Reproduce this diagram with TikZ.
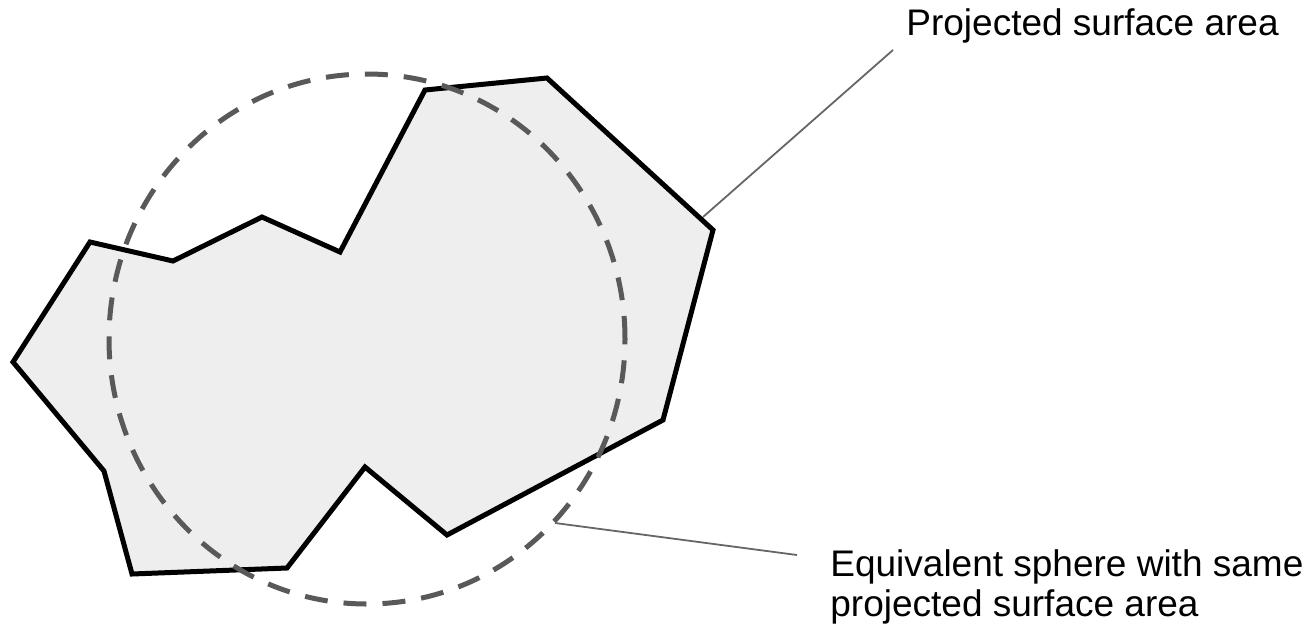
\documentclass[tikz,border=0pt]{standalone}
\usepackage{fontspec}
\setmainfont{Liberation Sans}
\definecolor{grainfill}{HTML}{EEEEEE}
\definecolor{spheregray}{HTML}{595959}
\definecolor{leadergray}{HTML}{666666}
\tikzset{
  grain/.style={draw=black, fill=grainfill, line width=2.5pt},
  sphere/.style={draw=spheregray, line width=2.5pt, dash pattern=on 11.5pt off 8pt},
  leader/.style={draw=leadergray, line width=0.9pt},
  lbl/.style={inner sep=0pt, align=left, font=\fontsize{18.5}{20}\selectfont},
}
\begin{document}
\begin{tikzpicture}[x=0.5pt, y=-0.5pt]
  \useasboundingbox (0,0) rectangle (1313,628);
  % particle outline
  \draw[grain] (425,90) -- (547,78) -- (713,230) -- (663,420) -- (447,535)
    -- (365,467) -- (287,568) -- (132,574) -- (104,471) -- (13,362)
    -- (90,242) -- (173,261) -- (262,217) -- (340,252) -- cycle;
  % equivalent sphere
  \draw[sphere] (367,339) ellipse [x radius=129pt, y radius=132.5pt];
  % labels
  \node[lbl, anchor=base west] (projlbl) at (906,35) {Projected surface area};
  \node[lbl, anchor=north west] (spherelbl) at (830,549)
    {Equivalent sphere with same\\projected surface area};
  \coordinate (grainedge) at (703,217);
  \coordinate (projend) at (893,50);
  \coordinate (sphereedge) at (555,523);
  \coordinate (sphereend) at (797,555);
  \draw[leader] (grainedge) -- (projend);
  \draw[leader] (sphereedge) -- (sphereend);
\end{tikzpicture}
\end{document}
